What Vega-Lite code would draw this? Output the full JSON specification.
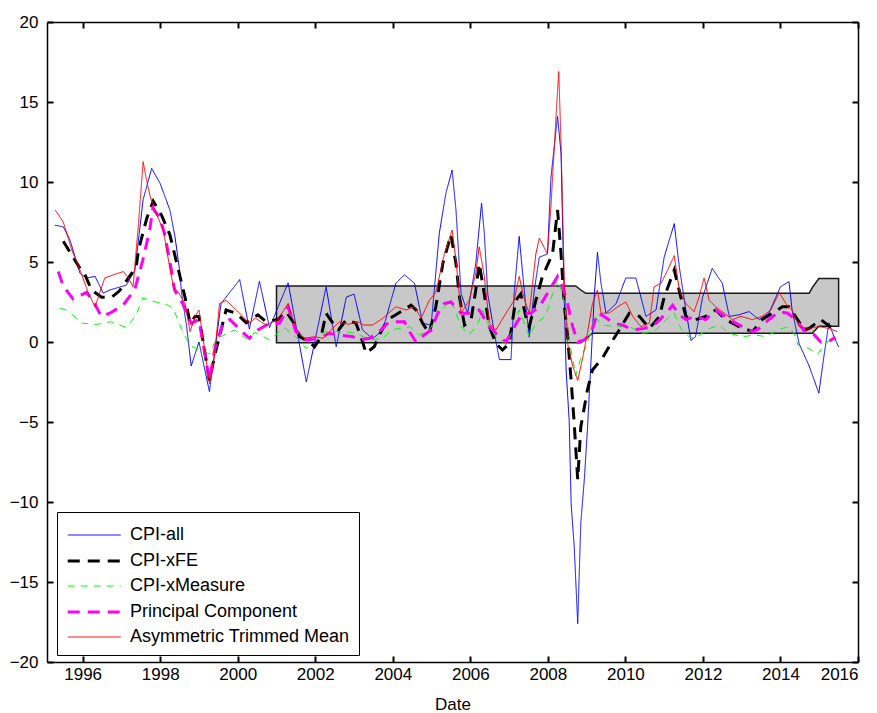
{
  "$schema": "https://vega.github.io/schema/vega-lite/v6.json",
  "width": 811,
  "height": 640,
  "autosize": {"type": "none"},
  "padding": {"left": 47, "top": 22, "right": 19, "bottom": 51},
  "background": "white",
  "config": {
    "view": {"stroke": null},
    "font": "Liberation Sans",
    "axis": {
      "domainColor": "black", "domainWidth": 1.5,
      "tickColor": "black", "tickWidth": 2, "tickSize": -6,
      "labelFont": "Liberation Sans", "labelFontSize": 17, "labelColor": "black",
      "grid": false,
      "titleFont": "Liberation Sans", "titleFontSize": 17, "titleFontWeight": "normal", "titleColor": "black"
    }
  },
  "datasets": {
    "band": [
      {"date": 2001.0, "lo": -0.05, "hi": 3.5},
      {"date": 2008.72, "lo": -0.05, "hi": 3.5},
      {"date": 2008.85, "lo": -0.05, "hi": 3.25},
      {"date": 2008.98, "lo": 0.2, "hi": 3.04},
      {"date": 2009.15, "lo": 0.55, "hi": 3.04},
      {"date": 2014.74, "lo": 0.55, "hi": 3.04},
      {"date": 2014.82, "lo": 0.55, "hi": 3.4},
      {"date": 2014.99, "lo": 0.98, "hi": 3.97},
      {"date": 2015.5, "lo": 0.98, "hi": 3.97}
    ],
    "lines": [
      {"date": 1995.28, "series": "CPI-all", "value": 7.3},
      {"date": 1995.5, "series": "CPI-all", "value": 7.2},
      {"date": 1995.67, "series": "CPI-all", "value": 6.4},
      {"date": 1995.93, "series": "CPI-all", "value": 4.3},
      {"date": 1996.1, "series": "CPI-all", "value": 4.0},
      {"date": 1996.32, "series": "CPI-all", "value": 4.1},
      {"date": 1996.53, "series": "CPI-all", "value": 3.05},
      {"date": 1996.7, "series": "CPI-all", "value": 3.25},
      {"date": 1997.13, "series": "CPI-all", "value": 3.56},
      {"date": 1997.35, "series": "CPI-all", "value": 4.5},
      {"date": 1997.56, "series": "CPI-all", "value": 8.9},
      {"date": 1997.78, "series": "CPI-all", "value": 10.85},
      {"date": 1998.0, "series": "CPI-all", "value": 9.9},
      {"date": 1998.25, "series": "CPI-all", "value": 8.25},
      {"date": 1998.38, "series": "CPI-all", "value": 6.6},
      {"date": 1998.5, "series": "CPI-all", "value": 4.5},
      {"date": 1998.55, "series": "CPI-all", "value": 3.1},
      {"date": 1998.68, "series": "CPI-all", "value": 1.0},
      {"date": 1998.8, "series": "CPI-all", "value": -1.5},
      {"date": 1999.0, "series": "CPI-all", "value": 0.0},
      {"date": 1999.27, "series": "CPI-all", "value": -3.1},
      {"date": 1999.57, "series": "CPI-all", "value": 2.4},
      {"date": 2000.05, "series": "CPI-all", "value": 3.9},
      {"date": 2000.3, "series": "CPI-all", "value": 0.8},
      {"date": 2000.56, "series": "CPI-all", "value": 3.8},
      {"date": 2000.82, "series": "CPI-all", "value": 0.9},
      {"date": 2001.3, "series": "CPI-all", "value": 3.7},
      {"date": 2001.77, "series": "CPI-all", "value": -2.5},
      {"date": 2002.28, "series": "CPI-all", "value": 3.45},
      {"date": 2002.54, "series": "CPI-all", "value": -0.3},
      {"date": 2002.8, "series": "CPI-all", "value": 2.8},
      {"date": 2003.0, "series": "CPI-all", "value": 3.0},
      {"date": 2003.22, "series": "CPI-all", "value": 0.75},
      {"date": 2003.48, "series": "CPI-all", "value": 0.2},
      {"date": 2003.74, "series": "CPI-all", "value": 0.75},
      {"date": 2004.08, "series": "CPI-all", "value": 3.67},
      {"date": 2004.3, "series": "CPI-all", "value": 4.2},
      {"date": 2004.56, "series": "CPI-all", "value": 3.67},
      {"date": 2004.77, "series": "CPI-all", "value": 1.17},
      {"date": 2004.99, "series": "CPI-all", "value": 1.06},
      {"date": 2005.2, "series": "CPI-all", "value": 6.8},
      {"date": 2005.37, "series": "CPI-all", "value": 9.3},
      {"date": 2005.53, "series": "CPI-all", "value": 10.75},
      {"date": 2005.63, "series": "CPI-all", "value": 8.25},
      {"date": 2005.76, "series": "CPI-all", "value": 3.04},
      {"date": 2005.93, "series": "CPI-all", "value": 1.8},
      {"date": 2006.14, "series": "CPI-all", "value": 4.9},
      {"date": 2006.29, "series": "CPI-all", "value": 8.67},
      {"date": 2006.36, "series": "CPI-all", "value": 6.8},
      {"date": 2006.45, "series": "CPI-all", "value": 3.0},
      {"date": 2006.62, "series": "CPI-all", "value": 0.54},
      {"date": 2006.75, "series": "CPI-all", "value": -1.1},
      {"date": 2007.05, "series": "CPI-all", "value": -1.1},
      {"date": 2007.13, "series": "CPI-all", "value": 3.04},
      {"date": 2007.26, "series": "CPI-all", "value": 6.6},
      {"date": 2007.4, "series": "CPI-all", "value": 3.0},
      {"date": 2007.52, "series": "CPI-all", "value": 0.3},
      {"date": 2007.65, "series": "CPI-all", "value": 3.25},
      {"date": 2007.78, "series": "CPI-all", "value": 5.3},
      {"date": 2007.99, "series": "CPI-all", "value": 5.5},
      {"date": 2008.08, "series": "CPI-all", "value": 10.3},
      {"date": 2008.25, "series": "CPI-all", "value": 14.1},
      {"date": 2008.34, "series": "CPI-all", "value": 11.8},
      {"date": 2008.42, "series": "CPI-all", "value": 3.0},
      {"date": 2008.47, "series": "CPI-all", "value": -1.75},
      {"date": 2008.55, "series": "CPI-all", "value": -4.9},
      {"date": 2008.6, "series": "CPI-all", "value": -10.1},
      {"date": 2008.68, "series": "CPI-all", "value": -12.8},
      {"date": 2008.77, "series": "CPI-all", "value": -17.6},
      {"date": 2008.85, "series": "CPI-all", "value": -11.3},
      {"date": 2008.94, "series": "CPI-all", "value": -8.6},
      {"date": 2009.02, "series": "CPI-all", "value": -5.5},
      {"date": 2009.11, "series": "CPI-all", "value": -1.3},
      {"date": 2009.2, "series": "CPI-all", "value": 3.0},
      {"date": 2009.28, "series": "CPI-all", "value": 5.6},
      {"date": 2009.37, "series": "CPI-all", "value": 3.67},
      {"date": 2009.5, "series": "CPI-all", "value": 1.8},
      {"date": 2009.76, "series": "CPI-all", "value": 2.4},
      {"date": 2010.01, "series": "CPI-all", "value": 4.0},
      {"date": 2010.27, "series": "CPI-all", "value": 4.0},
      {"date": 2010.53, "series": "CPI-all", "value": 1.6},
      {"date": 2010.79, "series": "CPI-all", "value": 2.0},
      {"date": 2011.0, "series": "CPI-all", "value": 5.3},
      {"date": 2011.26, "series": "CPI-all", "value": 7.4},
      {"date": 2011.39, "series": "CPI-all", "value": 4.7},
      {"date": 2011.56, "series": "CPI-all", "value": 2.0},
      {"date": 2011.69, "series": "CPI-all", "value": 0.1},
      {"date": 2011.81, "series": "CPI-all", "value": 0.33},
      {"date": 2011.99, "series": "CPI-all", "value": 2.8},
      {"date": 2012.24, "series": "CPI-all", "value": 4.6},
      {"date": 2012.5, "series": "CPI-all", "value": 3.67},
      {"date": 2012.68, "series": "CPI-all", "value": 1.6},
      {"date": 2012.93, "series": "CPI-all", "value": 1.7},
      {"date": 2013.19, "series": "CPI-all", "value": 1.9},
      {"date": 2013.45, "series": "CPI-all", "value": 1.4},
      {"date": 2013.7, "series": "CPI-all", "value": 1.8},
      {"date": 2014.0, "series": "CPI-all", "value": 3.45},
      {"date": 2014.22, "series": "CPI-all", "value": 3.77},
      {"date": 2014.3, "series": "CPI-all", "value": 2.0},
      {"date": 2014.48, "series": "CPI-all", "value": -0.1},
      {"date": 2014.74, "series": "CPI-all", "value": -1.5},
      {"date": 2014.99, "series": "CPI-all", "value": -3.2},
      {"date": 2015.12, "series": "CPI-all", "value": -0.9},
      {"date": 2015.25, "series": "CPI-all", "value": 1.2},
      {"date": 2015.38, "series": "CPI-all", "value": 0.33},
      {"date": 2015.5, "series": "CPI-all", "value": -0.3},

      {"date": 1995.5, "series": "CPI-xFE", "value": 6.3},
      {"date": 1995.93, "series": "CPI-xFE", "value": 4.6},
      {"date": 1996.06, "series": "CPI-xFE", "value": 4.2},
      {"date": 1996.23, "series": "CPI-xFE", "value": 3.25},
      {"date": 1996.49, "series": "CPI-xFE", "value": 2.8},
      {"date": 1996.75, "series": "CPI-xFE", "value": 2.8},
      {"date": 1996.95, "series": "CPI-xFE", "value": 3.2},
      {"date": 1997.38, "series": "CPI-xFE", "value": 4.7},
      {"date": 1997.44, "series": "CPI-xFE", "value": 5.75},
      {"date": 1997.65, "series": "CPI-xFE", "value": 7.7},
      {"date": 1997.82, "series": "CPI-xFE", "value": 8.8},
      {"date": 1998.04, "series": "CPI-xFE", "value": 7.9},
      {"date": 1998.25, "series": "CPI-xFE", "value": 6.7},
      {"date": 1998.47, "series": "CPI-xFE", "value": 4.5},
      {"date": 1998.64, "series": "CPI-xFE", "value": 2.8},
      {"date": 1998.77, "series": "CPI-xFE", "value": 1.17},
      {"date": 1998.9, "series": "CPI-xFE", "value": 1.6},
      {"date": 1999.0, "series": "CPI-xFE", "value": 1.6},
      {"date": 1999.27, "series": "CPI-xFE", "value": -2.4},
      {"date": 1999.42, "series": "CPI-xFE", "value": -0.7},
      {"date": 1999.7, "series": "CPI-xFE", "value": 2.0},
      {"date": 1999.96, "series": "CPI-xFE", "value": 1.8},
      {"date": 2000.22, "series": "CPI-xFE", "value": 1.2},
      {"date": 2000.52, "series": "CPI-xFE", "value": 1.7},
      {"date": 2000.73, "series": "CPI-xFE", "value": 1.27},
      {"date": 2001.03, "series": "CPI-xFE", "value": 1.4},
      {"date": 2001.25, "series": "CPI-xFE", "value": 1.9},
      {"date": 2001.45, "series": "CPI-xFE", "value": 1.17},
      {"date": 2001.6, "series": "CPI-xFE", "value": 0.33},
      {"date": 2001.85, "series": "CPI-xFE", "value": 0.0},
      {"date": 2001.98, "series": "CPI-xFE", "value": -0.3},
      {"date": 2002.15, "series": "CPI-xFE", "value": 0.33},
      {"date": 2002.28, "series": "CPI-xFE", "value": 1.8},
      {"date": 2002.45, "series": "CPI-xFE", "value": 1.2},
      {"date": 2002.6, "series": "CPI-xFE", "value": 0.75},
      {"date": 2002.8, "series": "CPI-xFE", "value": 1.4},
      {"date": 2003.05, "series": "CPI-xFE", "value": 1.17},
      {"date": 2003.18, "series": "CPI-xFE", "value": 0.33},
      {"date": 2003.31, "series": "CPI-xFE", "value": -0.7},
      {"date": 2003.52, "series": "CPI-xFE", "value": -0.3},
      {"date": 2003.65, "series": "CPI-xFE", "value": 0.44},
      {"date": 2003.87, "series": "CPI-xFE", "value": 1.4},
      {"date": 2004.08, "series": "CPI-xFE", "value": 1.7},
      {"date": 2004.47, "series": "CPI-xFE", "value": 2.3},
      {"date": 2004.6, "series": "CPI-xFE", "value": 2.0},
      {"date": 2004.77, "series": "CPI-xFE", "value": 1.17},
      {"date": 2004.94, "series": "CPI-xFE", "value": 0.54},
      {"date": 2005.11, "series": "CPI-xFE", "value": 2.2},
      {"date": 2005.29, "series": "CPI-xFE", "value": 4.9},
      {"date": 2005.5, "series": "CPI-xFE", "value": 6.7},
      {"date": 2005.63, "series": "CPI-xFE", "value": 4.9},
      {"date": 2005.72, "series": "CPI-xFE", "value": 2.8},
      {"date": 2005.85, "series": "CPI-xFE", "value": 1.06},
      {"date": 2006.02, "series": "CPI-xFE", "value": 1.4},
      {"date": 2006.14, "series": "CPI-xFE", "value": 3.25},
      {"date": 2006.23, "series": "CPI-xFE", "value": 4.9},
      {"date": 2006.36, "series": "CPI-xFE", "value": 3.0},
      {"date": 2006.49, "series": "CPI-xFE", "value": 0.96},
      {"date": 2006.66, "series": "CPI-xFE", "value": -0.1},
      {"date": 2006.83, "series": "CPI-xFE", "value": -0.5},
      {"date": 2007.0, "series": "CPI-xFE", "value": -0.1},
      {"date": 2007.17, "series": "CPI-xFE", "value": 2.6},
      {"date": 2007.3, "series": "CPI-xFE", "value": 3.0},
      {"date": 2007.43, "series": "CPI-xFE", "value": 1.6},
      {"date": 2007.52, "series": "CPI-xFE", "value": 0.96},
      {"date": 2007.69, "series": "CPI-xFE", "value": 2.6},
      {"date": 2007.86, "series": "CPI-xFE", "value": 4.1},
      {"date": 2008.12, "series": "CPI-xFE", "value": 5.5},
      {"date": 2008.25, "series": "CPI-xFE", "value": 8.25},
      {"date": 2008.34, "series": "CPI-xFE", "value": 5.5},
      {"date": 2008.42, "series": "CPI-xFE", "value": 2.4},
      {"date": 2008.51, "series": "CPI-xFE", "value": 0.33},
      {"date": 2008.6, "series": "CPI-xFE", "value": -2.4},
      {"date": 2008.68, "series": "CPI-xFE", "value": -5.1},
      {"date": 2008.77, "series": "CPI-xFE", "value": -8.6},
      {"date": 2008.85, "series": "CPI-xFE", "value": -5.3},
      {"date": 2009.02, "series": "CPI-xFE", "value": -3.0},
      {"date": 2009.15, "series": "CPI-xFE", "value": -1.75},
      {"date": 2009.41, "series": "CPI-xFE", "value": -1.0},
      {"date": 2009.67, "series": "CPI-xFE", "value": 0.1},
      {"date": 2009.84, "series": "CPI-xFE", "value": 0.75},
      {"date": 2010.1, "series": "CPI-xFE", "value": 1.8},
      {"date": 2010.36, "series": "CPI-xFE", "value": 1.6},
      {"date": 2010.62, "series": "CPI-xFE", "value": 0.85},
      {"date": 2010.88, "series": "CPI-xFE", "value": 1.6},
      {"date": 2011.0, "series": "CPI-xFE", "value": 2.8},
      {"date": 2011.26, "series": "CPI-xFE", "value": 4.5},
      {"date": 2011.43, "series": "CPI-xFE", "value": 2.8},
      {"date": 2011.56, "series": "CPI-xFE", "value": 1.6},
      {"date": 2011.81, "series": "CPI-xFE", "value": 1.4},
      {"date": 2012.07, "series": "CPI-xFE", "value": 1.6},
      {"date": 2012.33, "series": "CPI-xFE", "value": 2.0},
      {"date": 2012.59, "series": "CPI-xFE", "value": 1.4},
      {"date": 2012.93, "series": "CPI-xFE", "value": 0.96},
      {"date": 2013.28, "series": "CPI-xFE", "value": 0.65},
      {"date": 2013.53, "series": "CPI-xFE", "value": 1.4},
      {"date": 2013.79, "series": "CPI-xFE", "value": 1.8},
      {"date": 2014.05, "series": "CPI-xFE", "value": 2.2},
      {"date": 2014.22, "series": "CPI-xFE", "value": 2.2},
      {"date": 2014.44, "series": "CPI-xFE", "value": 1.4},
      {"date": 2014.61, "series": "CPI-xFE", "value": 0.75},
      {"date": 2014.74, "series": "CPI-xFE", "value": 0.85},
      {"date": 2015.04, "series": "CPI-xFE", "value": 1.4},
      {"date": 2015.34, "series": "CPI-xFE", "value": 0.85},
      {"date": 2015.47, "series": "CPI-xFE", "value": 0.75},

      {"date": 1995.42, "series": "CPI-xMeasure", "value": 2.1},
      {"date": 1995.58, "series": "CPI-xMeasure", "value": 2.0},
      {"date": 1996.0, "series": "CPI-xMeasure", "value": 1.17},
      {"date": 1996.35, "series": "CPI-xMeasure", "value": 1.1},
      {"date": 1996.74, "series": "CPI-xMeasure", "value": 1.27},
      {"date": 1997.13, "series": "CPI-xMeasure", "value": 0.9},
      {"date": 1997.38, "series": "CPI-xMeasure", "value": 1.7},
      {"date": 1997.55, "series": "CPI-xMeasure", "value": 2.75},
      {"date": 1997.81, "series": "CPI-xMeasure", "value": 2.55},
      {"date": 1998.16, "series": "CPI-xMeasure", "value": 2.35},
      {"date": 1998.33, "series": "CPI-xMeasure", "value": 2.1},
      {"date": 1998.42, "series": "CPI-xMeasure", "value": 1.6},
      {"date": 1998.58, "series": "CPI-xMeasure", "value": 0.65},
      {"date": 1998.76, "series": "CPI-xMeasure", "value": -0.2},
      {"date": 1999.0, "series": "CPI-xMeasure", "value": -0.5},
      {"date": 1999.27, "series": "CPI-xMeasure", "value": -0.75},
      {"date": 1999.45, "series": "CPI-xMeasure", "value": 0.2},
      {"date": 1999.92, "series": "CPI-xMeasure", "value": 0.75},
      {"date": 2000.22, "series": "CPI-xMeasure", "value": 0.2},
      {"date": 2000.45, "series": "CPI-xMeasure", "value": 0.6},
      {"date": 2000.82, "series": "CPI-xMeasure", "value": 0.13},
      {"date": 2001.2, "series": "CPI-xMeasure", "value": 0.9},
      {"date": 2001.5, "series": "CPI-xMeasure", "value": 0.33},
      {"date": 2001.77, "series": "CPI-xMeasure", "value": -0.4},
      {"date": 2002.0, "series": "CPI-xMeasure", "value": 0.33},
      {"date": 2002.28, "series": "CPI-xMeasure", "value": 0.65},
      {"date": 2002.75, "series": "CPI-xMeasure", "value": 0.65},
      {"date": 2003.05, "series": "CPI-xMeasure", "value": 0.54},
      {"date": 2003.25, "series": "CPI-xMeasure", "value": 0.33},
      {"date": 2003.48, "series": "CPI-xMeasure", "value": 0.13},
      {"date": 2003.74, "series": "CPI-xMeasure", "value": 0.23},
      {"date": 2003.96, "series": "CPI-xMeasure", "value": 0.75},
      {"date": 2004.43, "series": "CPI-xMeasure", "value": 0.96},
      {"date": 2004.69, "series": "CPI-xMeasure", "value": 0.44},
      {"date": 2004.94, "series": "CPI-xMeasure", "value": 0.75},
      {"date": 2005.11, "series": "CPI-xMeasure", "value": 1.4},
      {"date": 2005.29, "series": "CPI-xMeasure", "value": 2.1},
      {"date": 2005.5, "series": "CPI-xMeasure", "value": 2.6},
      {"date": 2005.63, "series": "CPI-xMeasure", "value": 1.8},
      {"date": 2005.76, "series": "CPI-xMeasure", "value": 0.96},
      {"date": 2005.97, "series": "CPI-xMeasure", "value": 0.44},
      {"date": 2006.2, "series": "CPI-xMeasure", "value": 1.17},
      {"date": 2006.32, "series": "CPI-xMeasure", "value": 2.0},
      {"date": 2006.45, "series": "CPI-xMeasure", "value": 1.17},
      {"date": 2006.66, "series": "CPI-xMeasure", "value": 0.33},
      {"date": 2006.92, "series": "CPI-xMeasure", "value": -0.2},
      {"date": 2007.13, "series": "CPI-xMeasure", "value": 0.96},
      {"date": 2007.26, "series": "CPI-xMeasure", "value": 2.0},
      {"date": 2007.43, "series": "CPI-xMeasure", "value": 0.96},
      {"date": 2007.52, "series": "CPI-xMeasure", "value": 0.33},
      {"date": 2007.69, "series": "CPI-xMeasure", "value": 1.17},
      {"date": 2007.94, "series": "CPI-xMeasure", "value": 1.6},
      {"date": 2008.12, "series": "CPI-xMeasure", "value": 3.0},
      {"date": 2008.25, "series": "CPI-xMeasure", "value": 3.9},
      {"date": 2008.38, "series": "CPI-xMeasure", "value": 3.0},
      {"date": 2008.51, "series": "CPI-xMeasure", "value": 0.96},
      {"date": 2008.6, "series": "CPI-xMeasure", "value": -0.5},
      {"date": 2008.72, "series": "CPI-xMeasure", "value": -2.1},
      {"date": 2008.85, "series": "CPI-xMeasure", "value": -1.0},
      {"date": 2008.98, "series": "CPI-xMeasure", "value": -0.3},
      {"date": 2009.1, "series": "CPI-xMeasure", "value": 0.5},
      {"date": 2009.2, "series": "CPI-xMeasure", "value": 1.6},
      {"date": 2009.41, "series": "CPI-xMeasure", "value": 1.06},
      {"date": 2009.76, "series": "CPI-xMeasure", "value": 0.96},
      {"date": 2010.1, "series": "CPI-xMeasure", "value": 0.96},
      {"date": 2010.45, "series": "CPI-xMeasure", "value": 0.54},
      {"date": 2010.79, "series": "CPI-xMeasure", "value": 0.75},
      {"date": 2011.05, "series": "CPI-xMeasure", "value": 1.4},
      {"date": 2011.26, "series": "CPI-xMeasure", "value": 1.8},
      {"date": 2011.43, "series": "CPI-xMeasure", "value": 0.85},
      {"date": 2011.64, "series": "CPI-xMeasure", "value": 0.33},
      {"date": 2011.81, "series": "CPI-xMeasure", "value": 0.23},
      {"date": 2012.07, "series": "CPI-xMeasure", "value": 0.75},
      {"date": 2012.42, "series": "CPI-xMeasure", "value": 1.06},
      {"date": 2012.68, "series": "CPI-xMeasure", "value": 0.54},
      {"date": 2013.02, "series": "CPI-xMeasure", "value": 0.33},
      {"date": 2013.36, "series": "CPI-xMeasure", "value": 0.44},
      {"date": 2013.62, "series": "CPI-xMeasure", "value": 0.33},
      {"date": 2013.97, "series": "CPI-xMeasure", "value": 0.8},
      {"date": 2014.22, "series": "CPI-xMeasure", "value": 0.96},
      {"date": 2014.36, "series": "CPI-xMeasure", "value": 0.5},
      {"date": 2014.45, "series": "CPI-xMeasure", "value": -0.2},
      {"date": 2014.74, "series": "CPI-xMeasure", "value": -0.4},
      {"date": 2014.95, "series": "CPI-xMeasure", "value": -0.8},
      {"date": 2015.17, "series": "CPI-xMeasure", "value": -0.05},
      {"date": 2015.38, "series": "CPI-xMeasure", "value": 0.23},

      {"date": 1995.37, "series": "Principal Component", "value": 4.4},
      {"date": 1995.5, "series": "Principal Component", "value": 3.5},
      {"date": 1995.75, "series": "Principal Component", "value": 2.7},
      {"date": 1996.1, "series": "Principal Component", "value": 3.1},
      {"date": 1996.31, "series": "Principal Component", "value": 2.4},
      {"date": 1996.48, "series": "Principal Component", "value": 1.6},
      {"date": 1996.7, "series": "Principal Component", "value": 1.8},
      {"date": 1997.04, "series": "Principal Component", "value": 2.3},
      {"date": 1997.34, "series": "Principal Component", "value": 3.25},
      {"date": 1997.55, "series": "Principal Component", "value": 5.1},
      {"date": 1997.73, "series": "Principal Component", "value": 7.0},
      {"date": 1997.81, "series": "Principal Component", "value": 8.35},
      {"date": 1997.98, "series": "Principal Component", "value": 7.8},
      {"date": 1998.11, "series": "Principal Component", "value": 6.8},
      {"date": 1998.29, "series": "Principal Component", "value": 4.5},
      {"date": 1998.37, "series": "Principal Component", "value": 3.25},
      {"date": 1998.58, "series": "Principal Component", "value": 2.4},
      {"date": 1998.8, "series": "Principal Component", "value": 1.17},
      {"date": 1999.0, "series": "Principal Component", "value": 1.4},
      {"date": 1999.27, "series": "Principal Component", "value": -2.4},
      {"date": 1999.42, "series": "Principal Component", "value": -0.3},
      {"date": 1999.62, "series": "Principal Component", "value": 1.17},
      {"date": 1999.8, "series": "Principal Component", "value": 1.4},
      {"date": 2000.13, "series": "Principal Component", "value": 0.6},
      {"date": 2000.3, "series": "Principal Component", "value": 0.23},
      {"date": 2000.52, "series": "Principal Component", "value": 0.75},
      {"date": 2000.82, "series": "Principal Component", "value": 1.17},
      {"date": 2001.08, "series": "Principal Component", "value": 1.17},
      {"date": 2001.3, "series": "Principal Component", "value": 2.2},
      {"date": 2001.5, "series": "Principal Component", "value": 0.65},
      {"date": 2001.77, "series": "Principal Component", "value": 0.13},
      {"date": 2002.1, "series": "Principal Component", "value": 0.23},
      {"date": 2002.35, "series": "Principal Component", "value": 0.54},
      {"date": 2002.6, "series": "Principal Component", "value": 0.44},
      {"date": 2002.97, "series": "Principal Component", "value": 0.33},
      {"date": 2003.15, "series": "Principal Component", "value": 0.13},
      {"date": 2003.4, "series": "Principal Component", "value": 0.23},
      {"date": 2003.65, "series": "Principal Component", "value": 0.65},
      {"date": 2003.91, "series": "Principal Component", "value": 1.27},
      {"date": 2004.3, "series": "Principal Component", "value": 1.27},
      {"date": 2004.43, "series": "Principal Component", "value": 0.65},
      {"date": 2004.6, "series": "Principal Component", "value": 0.0},
      {"date": 2004.81, "series": "Principal Component", "value": 0.44},
      {"date": 2004.99, "series": "Principal Component", "value": 0.75},
      {"date": 2005.16, "series": "Principal Component", "value": 1.8},
      {"date": 2005.33, "series": "Principal Component", "value": 2.4},
      {"date": 2005.5, "series": "Principal Component", "value": 2.5},
      {"date": 2005.76, "series": "Principal Component", "value": 1.8},
      {"date": 2005.97, "series": "Principal Component", "value": 1.8},
      {"date": 2006.23, "series": "Principal Component", "value": 2.0},
      {"date": 2006.49, "series": "Principal Component", "value": 0.96},
      {"date": 2006.66, "series": "Principal Component", "value": 0.54},
      {"date": 2006.92, "series": "Principal Component", "value": 0.0},
      {"date": 2007.09, "series": "Principal Component", "value": 0.75},
      {"date": 2007.35, "series": "Principal Component", "value": 1.8},
      {"date": 2007.56, "series": "Principal Component", "value": 1.8},
      {"date": 2007.78, "series": "Principal Component", "value": 2.2},
      {"date": 2008.04, "series": "Principal Component", "value": 3.25},
      {"date": 2008.25, "series": "Principal Component", "value": 4.1},
      {"date": 2008.38, "series": "Principal Component", "value": 3.45},
      {"date": 2008.51, "series": "Principal Component", "value": 2.4},
      {"date": 2008.64, "series": "Principal Component", "value": 0.96},
      {"date": 2008.77, "series": "Principal Component", "value": 0.0},
      {"date": 2008.94, "series": "Principal Component", "value": 0.13},
      {"date": 2009.11, "series": "Principal Component", "value": 0.54},
      {"date": 2009.28, "series": "Principal Component", "value": 1.8},
      {"date": 2009.45, "series": "Principal Component", "value": 1.6},
      {"date": 2009.71, "series": "Principal Component", "value": 1.17},
      {"date": 2009.93, "series": "Principal Component", "value": 1.06},
      {"date": 2010.19, "series": "Principal Component", "value": 0.75},
      {"date": 2010.49, "series": "Principal Component", "value": 0.85},
      {"date": 2010.79, "series": "Principal Component", "value": 1.17},
      {"date": 2011.05, "series": "Principal Component", "value": 1.8},
      {"date": 2011.22, "series": "Principal Component", "value": 2.3},
      {"date": 2011.39, "series": "Principal Component", "value": 1.7},
      {"date": 2011.56, "series": "Principal Component", "value": 1.4},
      {"date": 2011.81, "series": "Principal Component", "value": 1.6},
      {"date": 2012.07, "series": "Principal Component", "value": 1.4},
      {"date": 2012.33, "series": "Principal Component", "value": 2.0},
      {"date": 2012.68, "series": "Principal Component", "value": 1.4},
      {"date": 2013.02, "series": "Principal Component", "value": 0.96},
      {"date": 2013.28, "series": "Principal Component", "value": 0.65},
      {"date": 2013.45, "series": "Principal Component", "value": 0.85},
      {"date": 2013.7, "series": "Principal Component", "value": 1.4},
      {"date": 2013.97, "series": "Principal Component", "value": 1.9},
      {"date": 2014.18, "series": "Principal Component", "value": 1.8},
      {"date": 2014.4, "series": "Principal Component", "value": 1.4},
      {"date": 2014.66, "series": "Principal Component", "value": 0.54},
      {"date": 2014.85, "series": "Principal Component", "value": 0.5},
      {"date": 2015.04, "series": "Principal Component", "value": 0.0},
      {"date": 2015.25, "series": "Principal Component", "value": 0.05},
      {"date": 2015.42, "series": "Principal Component", "value": 0.3},

      {"date": 1995.29, "series": "Asymmetric Trimmed Mean", "value": 8.25},
      {"date": 1995.5, "series": "Asymmetric Trimmed Mean", "value": 7.5},
      {"date": 1995.72, "series": "Asymmetric Trimmed Mean", "value": 5.75},
      {"date": 1995.93, "series": "Asymmetric Trimmed Mean", "value": 4.5},
      {"date": 1996.15, "series": "Asymmetric Trimmed Mean", "value": 3.04},
      {"date": 1996.32, "series": "Asymmetric Trimmed Mean", "value": 2.2},
      {"date": 1996.49, "series": "Asymmetric Trimmed Mean", "value": 3.45},
      {"date": 1996.57, "series": "Asymmetric Trimmed Mean", "value": 4.0},
      {"date": 1996.79, "series": "Asymmetric Trimmed Mean", "value": 4.2},
      {"date": 1997.05, "series": "Asymmetric Trimmed Mean", "value": 4.4},
      {"date": 1997.18, "series": "Asymmetric Trimmed Mean", "value": 4.0},
      {"date": 1997.3, "series": "Asymmetric Trimmed Mean", "value": 3.45},
      {"date": 1997.44, "series": "Asymmetric Trimmed Mean", "value": 7.4},
      {"date": 1997.56, "series": "Asymmetric Trimmed Mean", "value": 11.27},
      {"date": 1997.65, "series": "Asymmetric Trimmed Mean", "value": 10.1},
      {"date": 1997.74, "series": "Asymmetric Trimmed Mean", "value": 9.1},
      {"date": 1997.9, "series": "Asymmetric Trimmed Mean", "value": 8.0},
      {"date": 1998.08, "series": "Asymmetric Trimmed Mean", "value": 7.0},
      {"date": 1998.2, "series": "Asymmetric Trimmed Mean", "value": 5.3},
      {"date": 1998.34, "series": "Asymmetric Trimmed Mean", "value": 3.45},
      {"date": 1998.47, "series": "Asymmetric Trimmed Mean", "value": 3.1},
      {"date": 1998.64, "series": "Asymmetric Trimmed Mean", "value": 2.4},
      {"date": 1998.77, "series": "Asymmetric Trimmed Mean", "value": 0.65},
      {"date": 1998.9, "series": "Asymmetric Trimmed Mean", "value": 1.6},
      {"date": 1999.0, "series": "Asymmetric Trimmed Mean", "value": 2.0},
      {"date": 1999.1, "series": "Asymmetric Trimmed Mean", "value": 0.33},
      {"date": 1999.27, "series": "Asymmetric Trimmed Mean", "value": -2.6},
      {"date": 1999.4, "series": "Asymmetric Trimmed Mean", "value": -0.9},
      {"date": 1999.53, "series": "Asymmetric Trimmed Mean", "value": 2.4},
      {"date": 1999.7, "series": "Asymmetric Trimmed Mean", "value": 2.6},
      {"date": 2000.05, "series": "Asymmetric Trimmed Mean", "value": 1.8},
      {"date": 2000.3, "series": "Asymmetric Trimmed Mean", "value": 1.17},
      {"date": 2000.45, "series": "Asymmetric Trimmed Mean", "value": 1.5},
      {"date": 2000.73, "series": "Asymmetric Trimmed Mean", "value": 1.06},
      {"date": 2001.03, "series": "Asymmetric Trimmed Mean", "value": 1.4},
      {"date": 2001.3, "series": "Asymmetric Trimmed Mean", "value": 2.4},
      {"date": 2001.5, "series": "Asymmetric Trimmed Mean", "value": 0.85},
      {"date": 2001.72, "series": "Asymmetric Trimmed Mean", "value": 0.23},
      {"date": 2001.98, "series": "Asymmetric Trimmed Mean", "value": 0.33},
      {"date": 2002.2, "series": "Asymmetric Trimmed Mean", "value": 0.23},
      {"date": 2002.41, "series": "Asymmetric Trimmed Mean", "value": 0.75},
      {"date": 2002.62, "series": "Asymmetric Trimmed Mean", "value": 1.27},
      {"date": 2002.85, "series": "Asymmetric Trimmed Mean", "value": 1.1},
      {"date": 2003.1, "series": "Asymmetric Trimmed Mean", "value": 1.27},
      {"date": 2003.25, "series": "Asymmetric Trimmed Mean", "value": 1.06},
      {"date": 2003.48, "series": "Asymmetric Trimmed Mean", "value": 1.06},
      {"date": 2003.74, "series": "Asymmetric Trimmed Mean", "value": 1.48},
      {"date": 2004.08, "series": "Asymmetric Trimmed Mean", "value": 2.2},
      {"date": 2004.34, "series": "Asymmetric Trimmed Mean", "value": 2.0},
      {"date": 2004.56, "series": "Asymmetric Trimmed Mean", "value": 2.2},
      {"date": 2004.73, "series": "Asymmetric Trimmed Mean", "value": 1.48},
      {"date": 2004.94, "series": "Asymmetric Trimmed Mean", "value": 2.6},
      {"date": 2005.11, "series": "Asymmetric Trimmed Mean", "value": 3.1},
      {"date": 2005.33, "series": "Asymmetric Trimmed Mean", "value": 5.5},
      {"date": 2005.53, "series": "Asymmetric Trimmed Mean", "value": 7.0},
      {"date": 2005.63, "series": "Asymmetric Trimmed Mean", "value": 5.1},
      {"date": 2005.76, "series": "Asymmetric Trimmed Mean", "value": 1.8},
      {"date": 2005.97, "series": "Asymmetric Trimmed Mean", "value": 2.6},
      {"date": 2006.14, "series": "Asymmetric Trimmed Mean", "value": 4.3},
      {"date": 2006.23, "series": "Asymmetric Trimmed Mean", "value": 5.95},
      {"date": 2006.36, "series": "Asymmetric Trimmed Mean", "value": 4.1},
      {"date": 2006.49, "series": "Asymmetric Trimmed Mean", "value": 1.17},
      {"date": 2006.66, "series": "Asymmetric Trimmed Mean", "value": 0.75},
      {"date": 2006.92, "series": "Asymmetric Trimmed Mean", "value": 1.8},
      {"date": 2007.13, "series": "Asymmetric Trimmed Mean", "value": 2.6},
      {"date": 2007.26, "series": "Asymmetric Trimmed Mean", "value": 4.1},
      {"date": 2007.4, "series": "Asymmetric Trimmed Mean", "value": 2.6},
      {"date": 2007.52, "series": "Asymmetric Trimmed Mean", "value": 1.8},
      {"date": 2007.69, "series": "Asymmetric Trimmed Mean", "value": 5.5},
      {"date": 2007.78, "series": "Asymmetric Trimmed Mean", "value": 6.5},
      {"date": 2007.99, "series": "Asymmetric Trimmed Mean", "value": 5.5},
      {"date": 2008.08, "series": "Asymmetric Trimmed Mean", "value": 8.5},
      {"date": 2008.22, "series": "Asymmetric Trimmed Mean", "value": 14.5},
      {"date": 2008.28, "series": "Asymmetric Trimmed Mean", "value": 16.9},
      {"date": 2008.34, "series": "Asymmetric Trimmed Mean", "value": 12.4},
      {"date": 2008.42, "series": "Asymmetric Trimmed Mean", "value": 4.1},
      {"date": 2008.51, "series": "Asymmetric Trimmed Mean", "value": -0.1},
      {"date": 2008.64, "series": "Asymmetric Trimmed Mean", "value": -1.5},
      {"date": 2008.77, "series": "Asymmetric Trimmed Mean", "value": -2.4},
      {"date": 2008.88, "series": "Asymmetric Trimmed Mean", "value": -1.2},
      {"date": 2009.02, "series": "Asymmetric Trimmed Mean", "value": 0.54},
      {"date": 2009.15, "series": "Asymmetric Trimmed Mean", "value": 2.4},
      {"date": 2009.28, "series": "Asymmetric Trimmed Mean", "value": 3.25},
      {"date": 2009.37, "series": "Asymmetric Trimmed Mean", "value": 1.8},
      {"date": 2009.58, "series": "Asymmetric Trimmed Mean", "value": 1.8},
      {"date": 2009.8, "series": "Asymmetric Trimmed Mean", "value": 2.2},
      {"date": 2010.01, "series": "Asymmetric Trimmed Mean", "value": 2.5},
      {"date": 2010.19, "series": "Asymmetric Trimmed Mean", "value": 1.6},
      {"date": 2010.4, "series": "Asymmetric Trimmed Mean", "value": 0.96},
      {"date": 2010.62, "series": "Asymmetric Trimmed Mean", "value": 1.17},
      {"date": 2010.74, "series": "Asymmetric Trimmed Mean", "value": 3.45},
      {"date": 2010.92, "series": "Asymmetric Trimmed Mean", "value": 3.67},
      {"date": 2011.09, "series": "Asymmetric Trimmed Mean", "value": 4.5},
      {"date": 2011.26, "series": "Asymmetric Trimmed Mean", "value": 5.4},
      {"date": 2011.39, "series": "Asymmetric Trimmed Mean", "value": 3.25},
      {"date": 2011.56, "series": "Asymmetric Trimmed Mean", "value": 2.4},
      {"date": 2011.77, "series": "Asymmetric Trimmed Mean", "value": 1.9},
      {"date": 2011.9, "series": "Asymmetric Trimmed Mean", "value": 2.8},
      {"date": 2012.03, "series": "Asymmetric Trimmed Mean", "value": 4.0},
      {"date": 2012.16, "series": "Asymmetric Trimmed Mean", "value": 2.6},
      {"date": 2012.33, "series": "Asymmetric Trimmed Mean", "value": 2.2},
      {"date": 2012.55, "series": "Asymmetric Trimmed Mean", "value": 1.8},
      {"date": 2012.76, "series": "Asymmetric Trimmed Mean", "value": 1.4},
      {"date": 2012.98, "series": "Asymmetric Trimmed Mean", "value": 1.6},
      {"date": 2013.28, "series": "Asymmetric Trimmed Mean", "value": 1.4},
      {"date": 2013.53, "series": "Asymmetric Trimmed Mean", "value": 1.6},
      {"date": 2013.75, "series": "Asymmetric Trimmed Mean", "value": 2.0},
      {"date": 2013.97, "series": "Asymmetric Trimmed Mean", "value": 3.1},
      {"date": 2014.14, "series": "Asymmetric Trimmed Mean", "value": 2.4},
      {"date": 2014.3, "series": "Asymmetric Trimmed Mean", "value": 2.0},
      {"date": 2014.48, "series": "Asymmetric Trimmed Mean", "value": 0.96},
      {"date": 2014.74, "series": "Asymmetric Trimmed Mean", "value": 0.85},
      {"date": 2014.99, "series": "Asymmetric Trimmed Mean", "value": 0.96},
      {"date": 2015.25, "series": "Asymmetric Trimmed Mean", "value": 0.85},
      {"date": 2015.47, "series": "Asymmetric Trimmed Mean", "value": 0.65}
    ]
  },
  "layer": [
    {
      "data": {"name": "band"},
      "mark": {"type": "area", "fill": "#c8c8c8", "stroke": "#1a1a1a", "strokeWidth": 1.5},
      "encoding": {
        "x": {
          "field": "date", "type": "quantitative",
          "scale": {"domain": [1995.08, 2016], "nice": false, "zero": false},
          "axis": {"orient": "bottom", "values": [1996, 1998, 2000, 2002, 2004, 2006, 2008, 2010, 2012, 2014, 2016], "format": "d", "title": "Date", "labelPadding": 10, "titlePadding": 14}
        },
        "y": {
          "field": "hi", "type": "quantitative",
          "scale": {"domain": [-20, 20], "nice": false, "zero": false},
          "axis": {"orient": "left", "values": [-20, -15, -10, -5, 0, 5, 10, 15, 20], "title": null, "labelPadding": 15}
        },
        "y2": {"field": "lo"}
      }
    },
    {
      "data": {"name": "lines"},
      "mark": {"type": "line"},
      "encoding": {
        "x": {
          "field": "date", "type": "quantitative",
          "axis": {"orient": "top", "values": [1996, 1998, 2000, 2002, 2004, 2006, 2008, 2010, 2012, 2014, 2016], "labels": false, "title": null}
        },
        "y": {
          "field": "value", "type": "quantitative",
          "axis": {"orient": "right", "values": [-20, -15, -10, -5, 0, 5, 10, 15, 20], "labels": false, "title": null}
        },
        "color": {
          "field": "series", "type": "nominal",
          "scale": {"domain": ["CPI-all", "CPI-xFE", "CPI-xMeasure", "Principal Component", "Asymmetric Trimmed Mean"], "range": ["#0000ff", "#000000", "#00ff00", "#ff00ff", "#ff0000"]},
          "legend": {
            "title": null, "orient": "none", "legendX": 10, "legendY": 490,
            "symbolType": "M-1,0H3", "symbolSize": 702, "labelOffset": 34,
            "padding": 9, "rowPadding": 2,
            "strokeColor": "black", "fillColor": "white",
            "labelFont": "Liberation Sans", "labelFontSize": 18, "labelColor": "black",
            "labelLimit": 400
          }
        },
        "strokeDash": {
          "field": "series", "type": "nominal",
          "scale": {"type": "ordinal", "domain": ["CPI-all", "CPI-xFE", "CPI-xMeasure", "Principal Component", "Asymmetric Trimmed Mean"], "range": [[1, 0], [12, 8], [7, 6], [12, 8], [1, 0]]}
        },
        "strokeWidth": {
          "field": "series", "type": "nominal",
          "scale": {"type": "ordinal", "domain": ["CPI-all", "CPI-xFE", "CPI-xMeasure", "Principal Component", "Asymmetric Trimmed Mean"], "range": [1, 3, 1, 3, 1]}
        }
      }
    }
  ],
  "resolve": {"axis": {"x": "independent", "y": "independent"}}
}
